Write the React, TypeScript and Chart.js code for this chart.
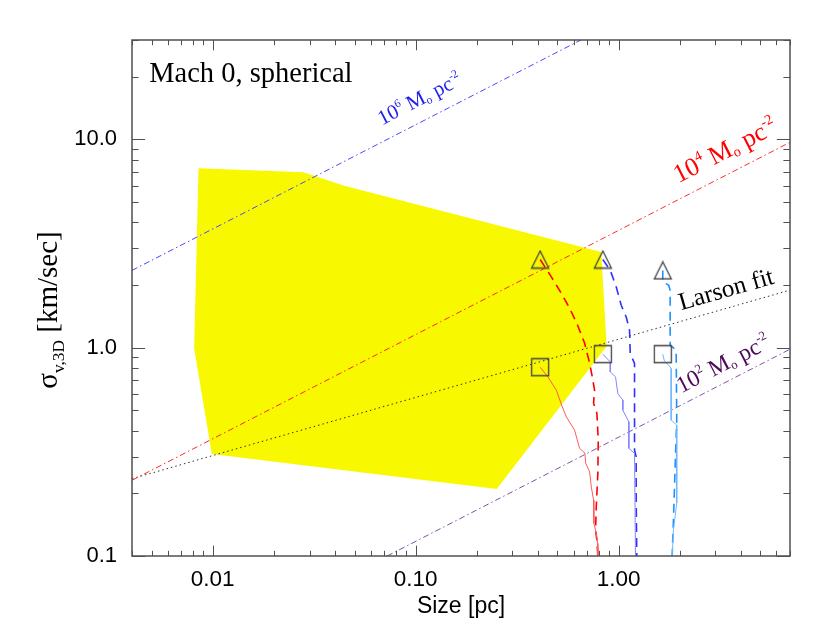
import React, { useEffect, useRef } from "react";
import { Chart, registerables } from "chart.js";

Chart.register(...registerables);

// ---------- axes ----------
const X_MIN = 0.004;
const X_MAX = 7;
const Y_MIN = 0.1;
const Y_MAX = 30;
const xTickValues = [0.01, 0.1, 1];
const xTickLabels = ["0.01", "0.10", "1.00"];
const yTickValues = [0.1, 1, 10];
const yTickLabels = ["0.1", "1.0", "10.0"];
const xTitle = "Size [pc]";
const chartTitle = "Mach 0, spherical";

// ---------- yellow region (observed clouds) ----------
const regionX = [0.00851, 0.028, 0.0449, 0.822, 0.873, 0.251, 0.0099, 0.0081, 0.00851];
const regionY = [7.26, 6.95, 5.98, 2.88, 1.017, 0.2096, 0.3085, 0.991, 7.26];

// ---------- constant surface density lines & Larson fit ----------
const sigma6X = [0.004, 7];
const sigma6Y = [2.35, 98.3];
const sigma4X = [0.004, 7];
const sigma4Y = [0.231, 9.68];
const sigma2X = [0.0724, 7];
const sigma2Y = [0.1, 0.983];
const larsonX = [0.004, 7];
const larsonY = [0.235, 1.89];

// ---------- simulation tracks ----------
const redDashX = [0.411, 0.4665, 0.5224, 0.5739, 0.6284, 0.6806, 0.7201, 0.7424, 0.7619, 0.7534, 0.782, 0.7945, 0.7909, 0.7767, 0.7705, 0.782, 0.7909];
const redDashY = [2.65, 2.186, 1.826, 1.547, 1.282, 1.051, 0.8426, 0.7244, 0.6253, 0.5418, 0.4852, 0.36, 0.2501, 0.1723, 0.1332, 0.1193, 0.1];
const redSolidX = [0.411, 0.4487, 0.4935, 0.5283, 0.5528, 0.6073, 0.6428, 0.6828, 0.6884, 0.7201, 0.7341, 0.7534, 0.7559, 0.7767, 0.7883, 0.7909];
const redSolidY = [0.806, 0.7244, 0.6253, 0.52, 0.4657, 0.4021, 0.3285, 0.3119, 0.2793, 0.2537, 0.215, 0.1856, 0.1435, 0.1285, 0.115, 0.1];
const blueDashX = [0.837, 0.9103, 0.9743, 1.031, 1.091, 1.133, 1.142, 1.199, 1.199, 1.222, 1.222, 1.23];
const blueDashY = [2.65, 2.353, 1.957, 1.599, 1.405, 1.213, 0.938, 0.8397, 0.3224, 0.2994, 0.1856, 0.1];
const blueSolidX = [0.837, 0.9103, 0.9103, 0.9665, 0.9921, 1.05, 1.05, 1.124, 1.124, 1.199, 1.212];
const blueSolidY = [0.931, 0.8549, 0.7654, 0.7244, 0.6031, 0.56, 0.5014, 0.4407, 0.3285, 0.3109, 0.1];
const lightDashX = [1.652, 1.652, 1.768, 1.796, 1.796, 1.923, 1.936, 1.908, 1.865, 1.838];
const lightDashY = [2.35, 2.068, 1.994, 1.887, 1.028, 0.973, 0.4491, 0.2994, 0.1489, 0.1];
const lightSolidX = [1.652, 1.684, 1.768, 1.817, 1.817, 1.936, 1.936, 1.865, 1.838];
const lightSolidY = [0.931, 0.8614, 0.8244, 0.7946, 0.4491, 0.4249, 0.1795, 0.1332, 0.1];

// ---------- markers ----------
const triX = [0.411, 0.837, 1.652];
const triY = [2.65, 2.65, 2.35];
const sqX = [0.411, 0.837, 1.652];
const sqY = [0.806, 0.931, 0.931];

const SERIF = '"Liberation Serif", "Times New Roman", serif';
const SANS = '"Liberation Sans", Arial, Helvetica, sans-serif';

const pts = (xs: number[], ys: number[]) => xs.map((x, i) => ({ x, y: ys[i] }));

type Part = { t: string; s?: number; dy?: number };

function drawRich(ctx: CanvasRenderingContext2D, parts: Part[], x: number, y: number, angle: number, size: number, color: string, family: string, center = false) {
  ctx.save();
  ctx.translate(x, y);
  ctx.rotate(angle);
  ctx.fillStyle = color;
  ctx.textBaseline = "alphabetic";
  ctx.textAlign = "left";
  let total = 0;
  for (const p of parts) {
    ctx.font = `${size * (p.s ?? 1)}px ${family}`;
    total += ctx.measureText(p.t).width;
  }
  let cx = center ? -total / 2 : 0;
  for (const p of parts) {
    ctx.font = `${size * (p.s ?? 1)}px ${family}`;
    ctx.fillText(p.t, cx, (p.dy ?? 0) * size);
    cx += ctx.measureText(p.t).width;
  }
  ctx.restore();
}

const sdParts = (exp: string): Part[] => [
  { t: "10" },
  { t: exp, s: 0.55, dy: -0.42 },
  { t: " M" },
  { t: "o", s: 0.55, dy: 0.12 },
  { t: " pc" },
  { t: "-2", s: 0.55, dy: -0.42 },
];

const annotations = [
  { parts: sdParts("6"), ax: 0.0682, ay: 11.67, lx: sigma6X, ly: sigma6Y, size: 21, color: "#1f1fee" },
  { parts: sdParts("4"), ax: 1.975, ay: 6.15, lx: sigma4X, ly: sigma4Y, size: 26, color: "#ff0000" },
  { parts: sdParts("2"), ax: 2.035, ay: 0.603, lx: sigma2X, ly: sigma2Y, size: 23.5, color: "#4e0a5a" },
  { parts: [{ t: "Larson fit" }] as Part[], ax: 2.035, ay: 1.513, lx: larsonX, ly: larsonY, size: 25, color: "#000000" },
];

function makeMarker(kind: "tri" | "sq") {
  const c = document.createElement("canvas");
  c.width = 20;
  c.height = 20;
  const g = c.getContext("2d")!;
  g.strokeStyle = "#454545";
  g.lineWidth = 1.3;
  g.beginPath();
  if (kind === "tri") {
    g.moveTo(1.5, 18.5);
    g.lineTo(10, 1.5);
    g.lineTo(18.5, 18.5);
    g.closePath();
  } else {
    g.rect(1.5, 1.5, 17, 17);
  }
  g.stroke();
  return c;
}

const framePlugin = {
  id: "idlFrame",
  afterDatasetsDraw(chart: any) {
    const ctx: CanvasRenderingContext2D = chart.ctx;
    const { left, right, top, bottom } = chart.chartArea;
    const xs = chart.scales.x;
    const ys = chart.scales.y;
    ctx.save();
    ctx.strokeStyle = "#505050";
    ctx.lineWidth = 1.5;
    ctx.strokeRect(left, top, right - left, bottom - top);
    ctx.lineWidth = 1;
    const h = bottom - top;
    const w = right - left;
    ctx.beginPath();
    for (let n = -3; n <= 1; n++) {
      for (let k = 1; k <= 9; k++) {
        const v = k * Math.pow(10, n);
        if (v >= X_MIN && v <= X_MAX) {
          const px = Math.round(xs.getPixelForValue(v)) + 0.5;
          const len = k === 1 ? 0.02 * h : 0.01 * h;
          ctx.moveTo(px, bottom);
          ctx.lineTo(px, bottom - len);
          ctx.moveTo(px, top);
          ctx.lineTo(px, top + len);
        }
        if (v >= Y_MIN && v <= Y_MAX) {
          const py = Math.round(ys.getPixelForValue(v)) + 0.5;
          const len = k === 1 ? 0.02 * w : 0.01 * w;
          ctx.moveTo(left, py);
          ctx.lineTo(left + len, py);
          ctx.moveTo(right, py);
          ctx.lineTo(right - len, py);
        }
      }
    }
    ctx.stroke();

    // annotations along lines
    for (const a of annotations) {
      const x0 = xs.getPixelForValue(a.lx[0]);
      const y0 = ys.getPixelForValue(a.ly[0]);
      const x1 = xs.getPixelForValue(a.lx[1]);
      const y1 = ys.getPixelForValue(a.ly[1]);
      const ang = Math.atan2(y1 - y0, x1 - x0);
      drawRich(ctx, a.parts, xs.getPixelForValue(a.ax), ys.getPixelForValue(a.ay), ang, a.size, a.color, SERIF);
    }

    // title
    drawRich(ctx, [{ t: chartTitle }], xs.getPixelForValue(0.00486), ys.getPixelForValue(18.8), 0, 28.5, "#000", SERIF);

    // axis titles
    ctx.fillStyle = "#000";
    ctx.font = `23px ${SANS}`;
    ctx.textAlign = "center";
    ctx.textBaseline = "alphabetic";
    ctx.fillText(xTitle, (left + right) / 2, bottom + 57);
    drawRich(
      ctx,
      [{ t: "σ" }, { t: "v,3D", s: 0.6, dy: 0.25 }, { t: " [km/sec]" }],
      57,
      (top + bottom) / 2 + 12,
      -Math.PI / 2,
      29,
      "#000",
      SERIF,
      true
    );
    ctx.restore();
  },
};

export default function App() {
  const ref = useRef<HTMLCanvasElement>(null);
  useEffect(() => {
    const canvas = ref.current!;
    const tri = makeMarker("tri");
    const sq = makeMarker("sq");
    const line = (xs: number[], ys: number[], color: string, width: number, dash: number[], order: number) => ({
      data: pts(xs, ys),
      showLine: true,
      borderColor: color,
      borderWidth: width,
      borderDash: dash,
      pointRadius: 0,
      pointHoverRadius: 0,
      fill: false,
      tension: 0,
      order,
    });
    const chart = new Chart(canvas, {
      type: "scatter",
      data: {
        datasets: [
          {
            data: pts(regionX, regionY),
            showLine: true,
            borderWidth: 0,
            borderColor: "rgba(0,0,0,0)",
            backgroundColor: "#f8f800",
            fill: "shape",
            pointRadius: 0,
            pointHoverRadius: 0,
            tension: 0,
            order: 100,
          } as any,
          line(sigma6X, sigma6Y, "#4848ff", 1, [6, 3, 1.5, 3], 50),
          line(sigma4X, sigma4Y, "#ff2a2a", 1, [6, 3, 1.5, 3], 50),
          line(sigma2X, sigma2Y, "#8050a8", 1, [6, 3, 1.5, 3], 50),
          line(larsonX, larsonY, "#303030", 1, [1.5, 3], 50),
          line(redSolidX, redSolidY, "#ff5a5a", 1, [], 10),
          line(redDashX, redDashY, "#ff0000", 1.6, [9, 6], 10),
          line(blueSolidX, blueSolidY, "#8484ff", 1, [], 10),
          line(blueDashX, blueDashY, "#3030ff", 1.6, [9, 6], 10),
          line(lightSolidX, lightSolidY, "#70b8ff", 1, [], 10),
          line(lightDashX, lightDashY, "#1e90ff", 1.6, [9, 6], 10),
          {
            data: pts(triX, triY),
            pointStyle: tri,
            pointRadius: 10,
            pointHoverRadius: 10,
            showLine: false,
            order: 0,
          } as any,
          {
            data: pts(sqX, sqY),
            pointStyle: sq,
            pointRadius: 10,
            pointHoverRadius: 10,
            showLine: false,
            order: 0,
          } as any,
        ],
      },
      options: {
        responsive: false,
        animation: false,
        devicePixelRatio: 1,
        events: [],
        layout: { padding: { left: 0, right: 40, top: 40, bottom: 0 } },
        plugins: {
          legend: { display: false },
          tooltip: { enabled: false },
          title: { display: false },
        },
        scales: {
          x: {
            type: "logarithmic",
            min: X_MIN,
            max: X_MAX,
            position: "bottom",
            grid: { display: false, drawTicks: false },
            border: { display: false },
            afterBuildTicks: (s: any) => {
              s.ticks = xTickValues.map((v) => ({ value: v }));
            },
            afterFit: (s: any) => {
              s.height = 84;
            },
            ticks: {
              autoSkip: false,
              maxRotation: 0,
              minRotation: 0,
              padding: 10,
              color: "#000",
              font: { family: SANS, size: 22.5 },
              callback: (_v: any, i: number) => xTickLabels[i],
            },
          },
          y: {
            type: "logarithmic",
            min: Y_MIN,
            max: Y_MAX,
            position: "left",
            grid: { display: false, drawTicks: false },
            border: { display: false },
            afterBuildTicks: (s: any) => {
              s.ticks = yTickValues.map((v) => ({ value: v }));
            },
            afterFit: (s: any) => {
              s.width = 132;
            },
            ticks: {
              autoSkip: false,
              padding: 15,
              color: "#000",
              font: { family: SANS, size: 22 },
              callback: (_v: any, i: number) => yTickLabels[i],
            },
          },
        },
      } as any,
      plugins: [framePlugin],
    });
    return () => chart.destroy();
  }, []);
  return (
    <div style={{ position: "absolute", left: 0, top: 0, width: 830, height: 640, background: "#fff" }}>
      <canvas ref={ref} width={830} height={640} style={{ display: "block", width: 830, height: 640 }} />
    </div>
  );
}
